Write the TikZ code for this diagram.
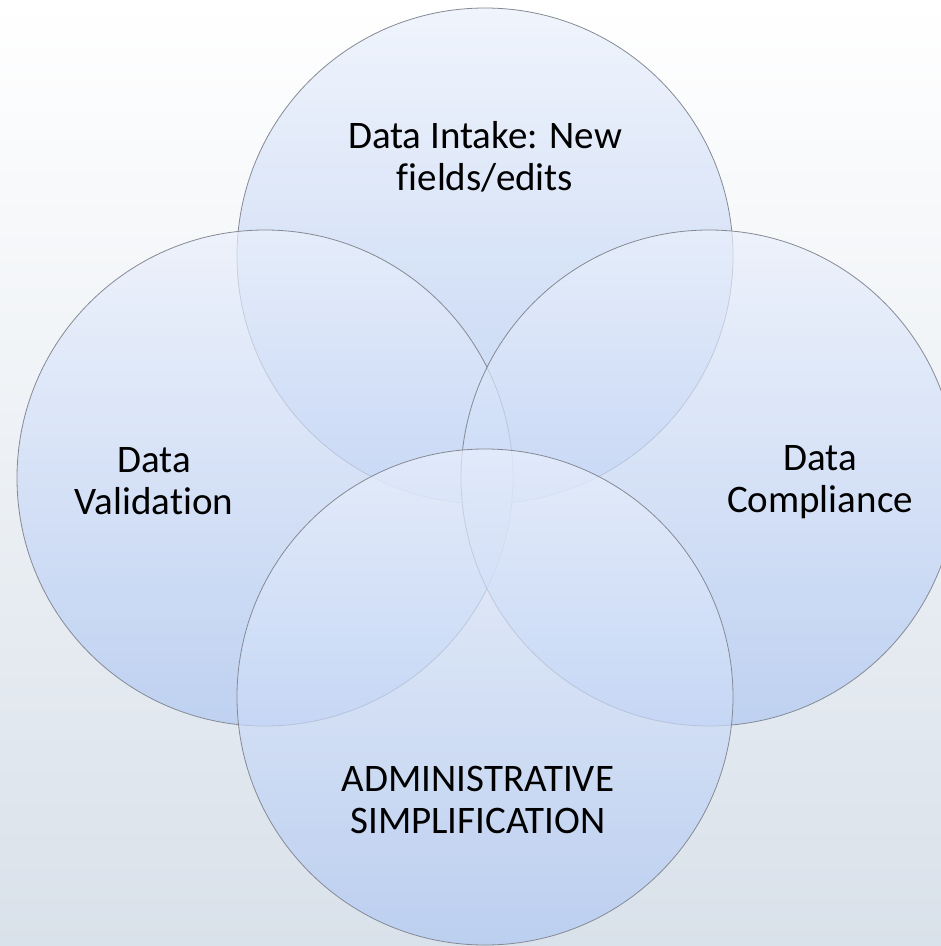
\documentclass[tikz,border=0pt]{standalone}
\usepackage{fontspec}
\setmainfont{Carlito}[Ligatures=NoCommon]
\definecolor{bgtop}{HTML}{FFFFFF}
\definecolor{bgbottom}{HTML}{D9E1EA}
\definecolor{settop}{HTML}{EAF0FC}
\definecolor{setbottom}{HTML}{B0C8F3}
\definecolor{setline}{HTML}{858A94}

\begin{document}
\begin{tikzpicture}[x=1pt,y=-1pt,
        setcircle/.style={draw=setline,
            line width=0.8pt,
            circle,
            minimum size=496pt,
            top color=settop,
            bottom color=setbottom,
            fill opacity=0.7},
        setlabel/.style={align=center,
            font=\fontsize{39}{42}\selectfont}]

        % Background
        \shade [top color=bgtop, bottom color=bgbottom] (0,0) rectangle (941,946);
        \useasboundingbox (0,0) rectangle (941,946);

        % Set Intake
        \node [setcircle] (intake) at (485,256) {};

        % Set Validation
        \node [setcircle] (validation) at (265,478) {};

        % Set Compliance
        \node [setcircle] (compliance) at (709,478) {};

        % Set Simplification
        \node [setcircle] (simplification) at (485,697) {};

        % Set labels
        \node [setlabel] (intakelabel) at (485,157) {Data Intake: New\\fields/edits};
        \node [setlabel] (validationlabel) at (154,481) {Data\\Validation};
        \node [setlabel] (compliancelabel) at (820,482) {Data\\Compliance};
        \node [setlabel] (simplificationlabel) at (478,800) {ADMINISTRATIVE\\SIMPLIFICATION};

\end{tikzpicture}
\end{document}
